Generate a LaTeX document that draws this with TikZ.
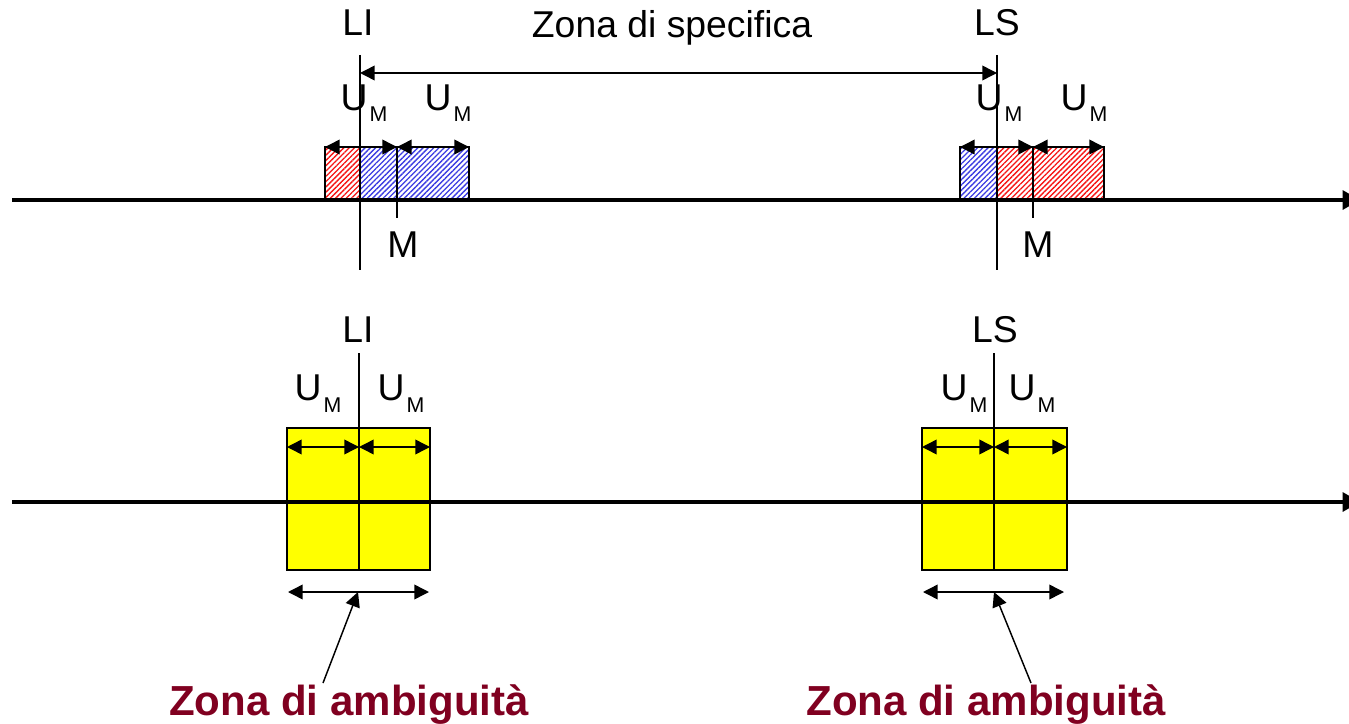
\documentclass[tikz,border=0pt]{standalone}
\usepackage{fontspec}
\setmainfont{Liberation Sans}
\usetikzlibrary{arrows.meta,patterns.meta}
\definecolor{maroon}{RGB}{128,0,32}
\definecolor{hblue}{RGB}{60,60,225}
\definecolor{hred}{RGB}{245,20,20}
\definecolor{yel}{RGB}{255,255,0}
\newcommand{\UMlbl}{U\kern1.5pt\raisebox{-9pt}{\fontsize{16}{16}\selectfont M}}
\tikzset{
  axisline/.style={line width=3pt,-{Triangle[length=13pt,width=14pt]}},
  limline/.style={line width=1.5pt},
  tickline/.style={line width=1.1pt},
  dimarrow/.style={line width=1.1pt,{Triangle[length=11pt,width=11pt]}-{Triangle[length=11pt,width=11pt]}},
  ptrarrow/.style={line width=1.1pt,-{Triangle[length=11pt,width=11pt]}},
  lbl/.style={font=\fontsize{28}{30}\selectfont,inner sep=0pt,anchor=base},
  amb/.style={font=\bfseries\fontsize{31.5}{33}\selectfont,text=maroon,inner sep=0pt,anchor=base},
  hatchred/.style={draw=black,line width=0.8pt,pattern={Lines[angle=45,distance=2.8pt,line width=1pt]},pattern color=hred},
  hatchblue/.style={draw=black,line width=0.8pt,pattern={Lines[angle=45,distance=2.8pt,line width=1pt]},pattern color=hblue},
  ybox/.style={draw=black,line width=1.2pt,fill=yel}
}
\begin{document}
\begin{tikzpicture}[x=0.75pt,y=-0.75pt]
\useasboundingbox (0,0) rectangle (1349,724);

% ---------------- top part ----------------
\node[lbl] (liT) at (358,36) {LI};
\node[lbl] (lsT) at (997,36) {LS};
\node[lbl] (zs) at (672,38) {Zona di specifica};

% hatched boxes
\path[hatchred] (325,147) rectangle (360,200);
\path[hatchblue] (360,147) rectangle (469,200);
\path[hatchblue] (960,147) rectangle (997,200);
\path[hatchred] (997,147) rectangle (1104,200);

% axis
\coordinate (axT0) at (12,200);
\coordinate (axT1) at (1360,200);
\draw[axisline] (axT0) -- (axT1);

% limit lines
\coordinate (liTtop) at (360,55);
\coordinate (liTbot) at (360,270);
\coordinate (lsTtop) at (997,55);
\coordinate (lsTbot) at (997,270);
\draw[limline] (liTtop) -- (liTbot);
\draw[limline] (lsTtop) -- (lsTbot);

% specification zone arrow
\coordinate (zsL) at (360,73);
\coordinate (zsR) at (997,73);
\draw[dimarrow] (zsL) -- (zsR);

% M ticks
\coordinate (m1a) at (397,147);
\coordinate (m1b) at (397,218);
\coordinate (m2a) at (1033,147);
\coordinate (m2b) at (1033,218);
\draw[tickline] (m1a) -- (m1b);
\draw[tickline] (m2a) -- (m2b);
\node[lbl] (mL) at (403,257) {M};
\node[lbl] (mR) at (1038,257) {M};

% U_M arrows top
\coordinate (a1) at (325,147);
\coordinate (a2) at (469,147);
\coordinate (a3) at (960,147);
\coordinate (a4) at (1104,147);
\draw[dimarrow] (a1) -- (m1a);
\draw[dimarrow] (m1a) -- (a2);
\draw[dimarrow] (a3) -- (m2a);
\draw[dimarrow] (m2a) -- (a4);

\node[lbl] (u1) at (364,110) {\UMlbl};
\node[lbl] (u2) at (448,110) {\UMlbl};
\node[lbl] (u3) at (999,110) {\UMlbl};
\node[lbl] (u4) at (1084,110) {\UMlbl};

% ---------------- bottom part ----------------
\node[lbl] (liB) at (358,342) {LI};
\node[lbl] (lsB) at (995,342) {LS};

\path[ybox] (287,428) rectangle (430,570);
\path[ybox] (922,428) rectangle (1067,570);

\coordinate (axB0) at (12,502);
\coordinate (axB1) at (1360,502);
\draw[axisline] (axB0) -- (axB1);

\coordinate (liBtop) at (359,353);
\coordinate (liBbot) at (359,570);
\coordinate (lsBtop) at (994,353);
\coordinate (lsBbot) at (994,570);
\draw[limline] (liBtop) -- (liBbot);
\draw[limline] (lsBtop) -- (lsBbot);

\coordinate (b1) at (287,447);
\coordinate (b2) at (359,447);
\coordinate (b3) at (430,447);
\coordinate (b4) at (922,447);
\coordinate (b5) at (994,447);
\coordinate (b6) at (1067,447);
\draw[dimarrow] (b1) -- (b2);
\draw[dimarrow] (b2) -- (b3);
\draw[dimarrow] (b4) -- (b5);
\draw[dimarrow] (b5) -- (b6);

\node[lbl] (u5) at (318,400) {\UMlbl};
\node[lbl] (u6) at (401,400) {\UMlbl};
\node[lbl] (u7) at (964,400) {\UMlbl};
\node[lbl] (u8) at (1032,400) {\UMlbl};

\coordinate (c1) at (288,592);
\coordinate (c2) at (429,592);
\coordinate (c3) at (923,592);
\coordinate (c4) at (1064,592);
\draw[dimarrow] (c1) -- (c2);
\draw[dimarrow] (c3) -- (c4);

\node[amb] (ambL) at (349,715) {Zona di ambiguità};
\node[amb] (ambR) at (986,715) {Zona di ambiguità};

\coordinate (tipL) at (358,592);
\coordinate (tipR) at (994,592);
\coordinate (ptL) at (323,683);
\coordinate (ptR) at (1031,683);
\draw[ptrarrow] (ptL) -- (tipL);
\draw[ptrarrow] (ptR) -- (tipR);
\end{tikzpicture}
\end{document}
